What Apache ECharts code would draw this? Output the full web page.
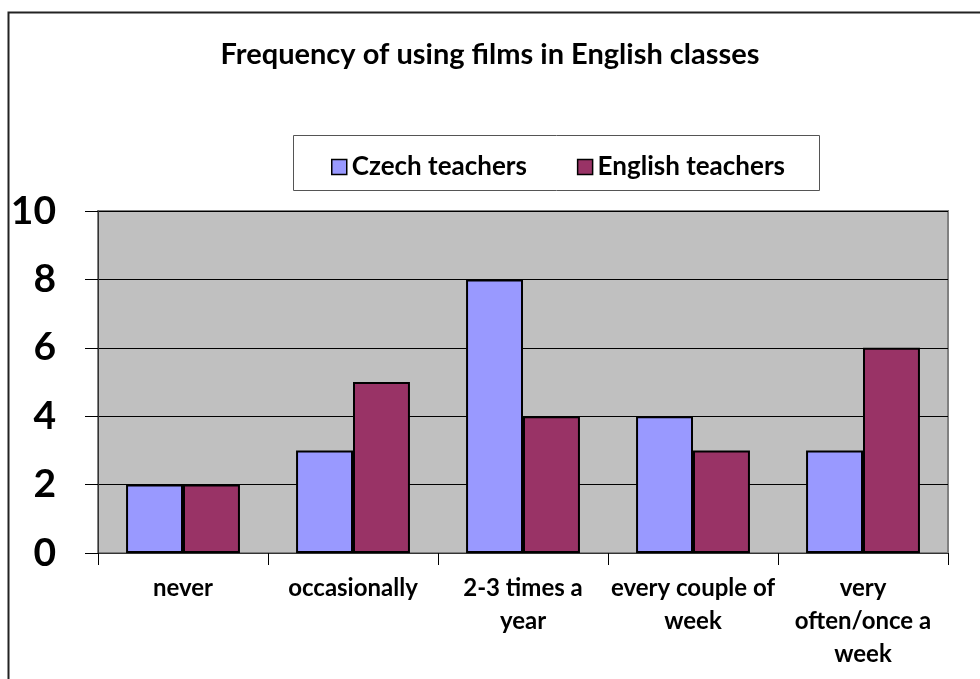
<!DOCTYPE html>
<html>
<head>
<meta charset="utf-8">
<script src="https://cdn.jsdelivr.net/npm/echarts@6/dist/echarts.min.js"></script>
<style>
  html, body { margin: 0; padding: 0; background: #fff; }
  #chart { width: 980px; height: 679px; }
</style>
</head>
<body>
<div id="chart"></div>
<script>
// 数据
var categories = ['never', 'occasionally', '2-3 times a\nyear', 'every couple of\nweek', 'very\noften/once a\nweek'];
var czechTeachers = [2, 3, 8, 4, 3];
var englishTeachers = [2, 5, 4, 3, 6];
var yTicks = [0, 2, 4, 6, 8, 10];

var myChart = echarts.init(document.getElementById('chart'));

var FONT = 'Lato';

var option = {
    backgroundColor: '#fff',
    animation: false,
    textStyle: { fontFamily: FONT },
    title: {
        text: 'Frequency of using films in English classes',
        left: 'center',
        top: 35,
        textStyle: { fontFamily: FONT, fontWeight: 'bold', fontSize: 29, color: '#000' }
    },
    graphic: [
        // outer frame
        {
            type: 'rect',
            shape: { x: 8.5, y: 12.5, width: 1000, height: 700 },
            style: { fill: 'none', stroke: '#222', lineWidth: 2 },
            z: 100
        },
        // legend box
        {
            type: 'rect',
            shape: { x: 293.5, y: 135.5, width: 526, height: 55 },
            style: { fill: '#fff', stroke: '#555', lineWidth: 1 },
            z: 1
        }
    ],
    legend: {
        data: ['Czech teachers', 'English teachers'],
        top: 149,
        left: 326,
        itemWidth: 15,
        itemHeight: 15,
        itemGap: 50,
        icon: 'rect',
        itemStyle: { borderColor: '#000', borderWidth: 1.5 },
        textStyle: { fontFamily: FONT, fontWeight: 'bold', fontSize: 26, color: '#000' },
        z: 5
    },
    grid: {
        left: 98,
        right: 32,
        top: 211,
        bottom: 126,
        show: true,
        backgroundColor: '#c0c0c0',
        borderColor: '#808080',
        borderWidth: 2
    },
    xAxis: {
        type: 'category',
        data: categories,
        axisLine: { show: true, lineStyle: { color: '#333', width: 1 } },
        axisTick: { show: true, length: 12, inside: false, lineStyle: { color: '#000' } },
        axisLabel: {
            margin: 19,
            interval: 0,
            fontFamily: FONT,
            fontWeight: 'bold',
            fontSize: 24,
            color: '#000',
            lineHeight: 33
        }
    },
    yAxis: {
        type: 'value',
        min: 0,
        max: 10,
        interval: 2,
        axisLine: { show: true, lineStyle: { color: '#333', width: 1 } },
        axisTick: { show: true, length: 13, lineStyle: { color: '#000' } },
        splitLine: { show: true, lineStyle: { color: '#000', width: 1 } },
        axisLabel: {
            margin: 42,
            fontFamily: FONT,
            fontWeight: 'bold',
            fontSize: 39,
            color: '#000',
            formatter: function (v) { return yTicks.indexOf(v) >= 0 ? String(v) : ''; }
        }
    },
    series: [
        {
            name: 'Czech teachers',
            type: 'bar',
            data: czechTeachers,
            barGap: '0%',
            barCategoryGap: '33%',
            itemStyle: { color: '#9999ff', borderColor: '#000', borderWidth: 2 }
        },
        {
            name: 'English teachers',
            type: 'bar',
            data: englishTeachers,
            itemStyle: { color: '#993366', borderColor: '#000', borderWidth: 2 }
        }
    ]
};

myChart.setOption(option);
</script>
</body>
</html>
